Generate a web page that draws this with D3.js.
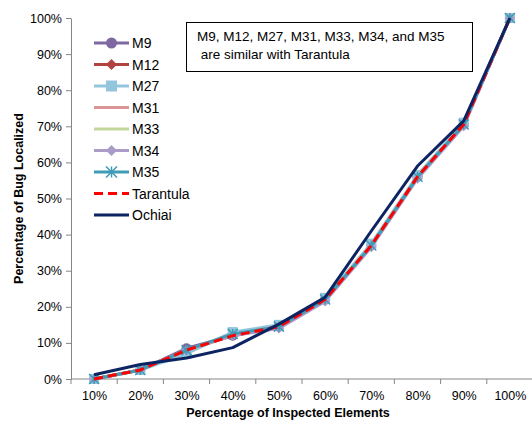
<!DOCTYPE html>
<html><head><meta charset="utf-8">
<script src="https://cdn.jsdelivr.net/npm/d3@7"></script>
<style>
body{margin:0;background:#fff;}
svg text{font-family:"Liberation Sans",Arial,sans-serif;}
</style></head>
<body><svg id="c" width="532" height="425"></svg>
<script>
const categories = ["10%","20%","30%","40%","50%","60%","70%","80%","90%","100%"];
const yTicks = [0,10,20,30,40,50,60,70,80,90,100];
const seriesNames = ["M9","M12","M27","M31","M33","M34","M35","Tarantula","Ochiai"];
const M9        = [0, 2.5, 8.5, 12, 14.5, 22, 37, 56, 70.5, 100];
const M12       = [0, 2.5, 8, 12, 14.5, 22, 37, 56, 70.5, 100];
const M27       = [0, 2.5, 7, 13, 15, 22.5, 37.5, 56.5, 71, 100];
const M31       = [0, 2.5, 8, 12, 14.5, 22, 37, 56, 70.5, 100];
const M33       = [0, 2.5, 8, 12, 14.5, 22, 37, 56, 70.5, 100];
const M34       = [0, 2.5, 8, 12, 14, 21.5, 36.5, 55.5, 70, 100];
const M35       = [0, 2.5, 8, 12.5, 14.5, 22, 37, 56, 70.5, 100];
const Tarantula = [0, 2.5, 8, 12, 14.5, 22, 37, 56, 70.5, 100];
const Ochiai    = [1.2, 4, 5.8, 8.7, 15.2, 22.6, 41, 59, 71.5, 100];
const seriesValues = [M9, M12, M27, M31, M33, M34, M35, Tarantula, Ochiai];
const colors  = ["#7d68a0","#b0433f","#93c6dc","#d99694","#c3d69b","#ab9bc9","#3f9bb6","#ff0000","#0d2463"];
const markers = ["circle","diamond","square","none","none","diamond","star","none","none"];
const annotation = ["M9, M12, M27, M31, M33, M34, and M35", " are similar with Tarantula"];
const xTitle = "Percentage of Inspected Elements";
const yTitle = "Percentage of Bug Localized";

const svg = d3.select("#c");
const L = 71, R = 533, T = 18, B = 379;
const x = d3.scalePoint().domain(categories).range([L, R]).padding(0.5);
const xb = d3.scaleBand().domain(categories).range([L, R]);
const y = d3.scaleLinear().domain([0, 100]).range([B, T]);

// y axis
const ya = svg.append("g").attr("transform", `translate(${L},0)`)
  .call(d3.axisLeft(y).tickValues(yTicks).tickFormat(d => d + "%").tickSize(5).tickSizeOuter(0));
ya.select(".domain").attr("stroke", "#868686");
ya.selectAll(".tick line").attr("stroke", "#868686");
ya.selectAll(".tick text").attr("font-size", 12.5).attr("fill", "#000").attr("x", -9);

// x axis
const xa = svg.append("g").attr("transform", `translate(0,${B})`)
  .call(d3.axisBottom(x).tickSize(0).tickSizeOuter(0));
xa.select(".domain").attr("stroke", "#868686").attr("d", `M${L},0H${R}`);
xa.selectAll(".tick text").attr("font-size", 12.5).attr("fill", "#000").attr("dy", "1.4em");
const bounds = categories.map(c => xb(c)).concat([R]);
xa.selectAll(".bt").data(bounds).enter().append("line")
  .attr("x1", d => d).attr("x2", d => d).attr("y1", 0).attr("y2", 5).attr("stroke", "#868686");

// titles
svg.append("text").attr("x", (L + R) / 2 - 14).attr("y", 417).attr("text-anchor", "middle")
  .attr("font-size", 12.5).attr("font-weight", "bold").text(xTitle);
svg.append("text").attr("transform", `translate(23,${(T + B) / 2}) rotate(-90)`).attr("text-anchor", "middle")
  .attr("font-size", 12.5).attr("font-weight", "bold").text(yTitle);

const line = d3.line().x((d, i) => x(categories[i])).y(d => y(d));

function drawMarker(g, type, cx, cy, color, s) {
  if (type === "circle") g.append("circle").attr("cx", cx).attr("cy", cy).attr("r", s).attr("fill", color);
  else if (type === "square") g.append("rect").attr("x", cx - s).attr("y", cy - s).attr("width", 2 * s).attr("height", 2 * s).attr("fill", color);
  else if (type === "diamond") g.append("path").attr("d", `M${cx},${cy-s}L${cx+s},${cy}L${cx},${cy+s}L${cx-s},${cy}Z`).attr("fill", color);
  else if (type === "star") {
    g.append("path").attr("d", `M${cx-s},${cy-s}L${cx+s},${cy+s}M${cx-s},${cy+s}L${cx+s},${cy-s}M${cx},${cy-s}L${cx},${cy+s}`)
      .attr("stroke", color).attr("stroke-width", 1.5).attr("fill", "none");
  }
}

const plot = svg.append("g");
seriesValues.forEach((vals, si) => {
  const g = plot.append("g");
  const isTar = seriesNames[si] === "Tarantula";
  g.append("path").datum(vals).attr("d", line).attr("fill", "none")
    .attr("stroke", colors[si]).attr("stroke-width", 3).attr("stroke-linejoin", "round")
    .attr("stroke-dasharray", isTar ? "9,5" : null);
  if (markers[si] !== "none") vals.forEach((v, i) => drawMarker(g, markers[si], x(categories[i]), y(v), colors[si], 5));
});

// legend
const lg = svg.append("g");
seriesNames.forEach((n, i) => {
  const cy = 43 + i * 21.5;
  const isTar = n === "Tarantula";
  lg.append("line").attr("x1", 94).attr("x2", 129).attr("y1", cy).attr("y2", cy)
    .attr("stroke", colors[i]).attr("stroke-width", 3).attr("stroke-dasharray", isTar ? "9,5" : null);
  if (markers[i] !== "none") drawMarker(lg, markers[i], 111.5, cy, colors[i], 5.5);
  lg.append("text").attr("x", 132).attr("y", cy + 5).attr("font-size", 14).text(n);
});

// annotation box
const ab = svg.append("g");
ab.append("rect").attr("x", 186.5).attr("y", 22.5).attr("width", 286).attr("height", 49)
  .attr("fill", "#fff").attr("stroke", "#000").attr("stroke-width", 1);
annotation.forEach((t, i) => {
  ab.append("text").attr("x", 197).attr("y", 41 + i * 18).attr("font-size", 13.5)
    .attr("font-family", "Lato, 'Open Sans', sans-serif").attr("xml:space", "preserve")
    .style("white-space", "pre").text(t);
});
</script></body></html>
